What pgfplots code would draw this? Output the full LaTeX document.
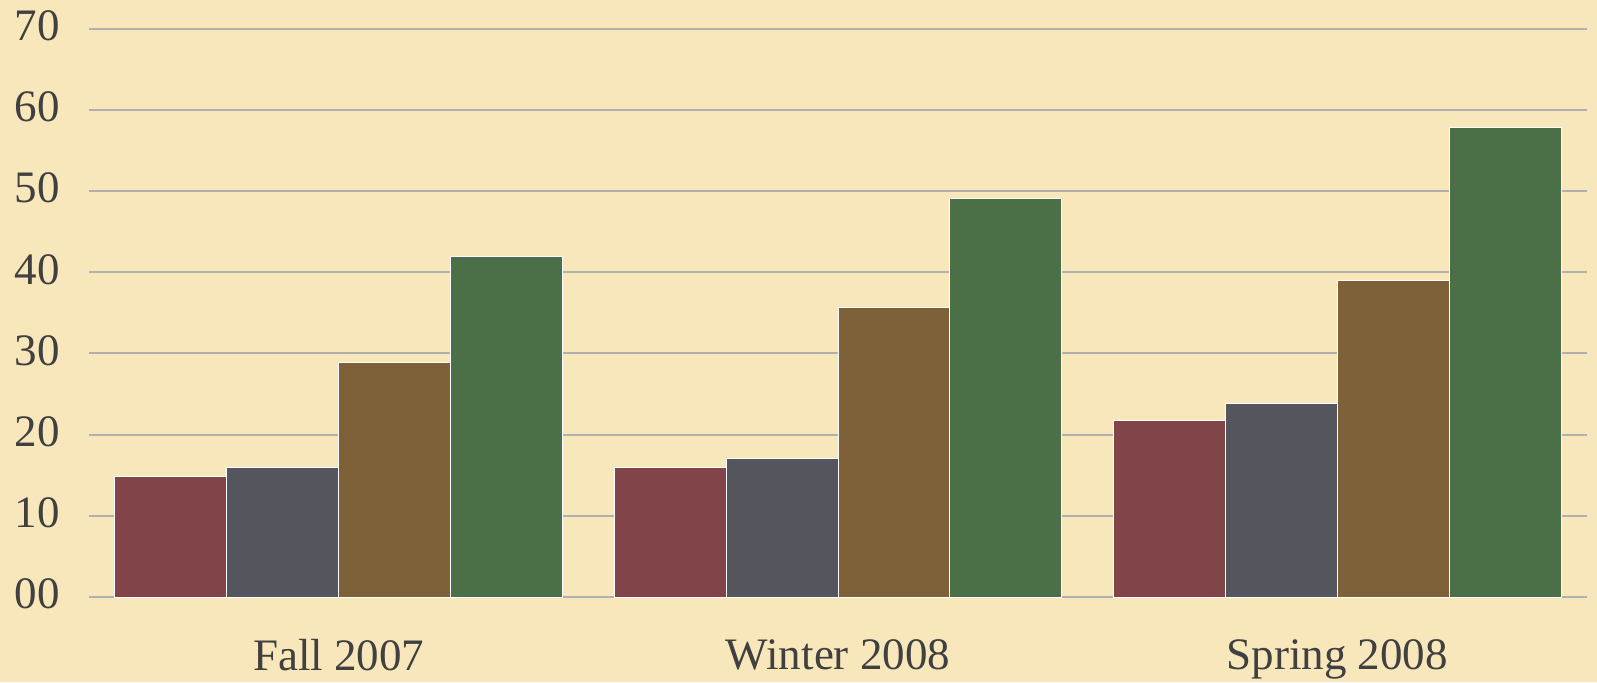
\documentclass[border=0pt]{standalone}
\usepackage{fontspec}
\setmainfont{Liberation Serif}
\usepackage{pgfplots}
\pgfplotsset{compat=1.18}
\definecolor{bg}{HTML}{F8E7BB}
\definecolor{txt}{HTML}{404040}
\definecolor{gridc}{HTML}{B0B0B0}
\definecolor{cred}{HTML}{804449}
\definecolor{cgray}{HTML}{54555D}
\definecolor{cbrown}{HTML}{7E6039}
\definecolor{cgreen}{HTML}{4B6F47}
\begin{document}
\begin{tikzpicture}
\fill[bg] (-44.5pt,-42.5pt) rectangle (754pt,298.5pt);
\begin{axis}[
  scale only axis,
  width=749pt, height=284.15pt,
  xmin=-0.5, xmax=2.5, ymin=0, ymax=70,
  axis line style={draw=none},
  major tick length=0pt,
  ytick={0,10,...,70},
  yticklabels={00,10,20,30,40,50,60,70},
  xtick={0,1,2},
  xticklabels={Fall 2007,Winter 2008,Spring 2008},
  ymajorgrids,
  grid style={gridc, line width=1pt},
  font=\fontsize{22.5pt}{27pt}\selectfont,
  yticklabel style={anchor=east, inner sep=0pt, xshift=-14.5pt, yshift=1.5pt, text=txt},
  xticklabel style={anchor=north, inner sep=0pt, yshift=-21pt, text=txt},
  ybar,
  bar width=0.224,
  every axis plot/.append style={draw=white, line width=0.5pt},
]
\addplot[fill=cred, bar shift=-0.336] coordinates {(0,14.9) (1,15.9) (2,21.7)};
\addplot[fill=cgray, bar shift=-0.112] coordinates {(0,16.0) (1,17.0) (2,23.8)};
\addplot[fill=cbrown, bar shift=0.112] coordinates {(0,28.9) (1,35.6) (2,39.0)};
\addplot[fill=cgreen, bar shift=0.336] coordinates {(0,41.9) (1,49.1) (2,57.8)};
\end{axis}
\pgfresetboundingbox
\path (-44.5pt,-42.5pt) rectangle (754pt,298.5pt);
\end{tikzpicture}
\end{document}
